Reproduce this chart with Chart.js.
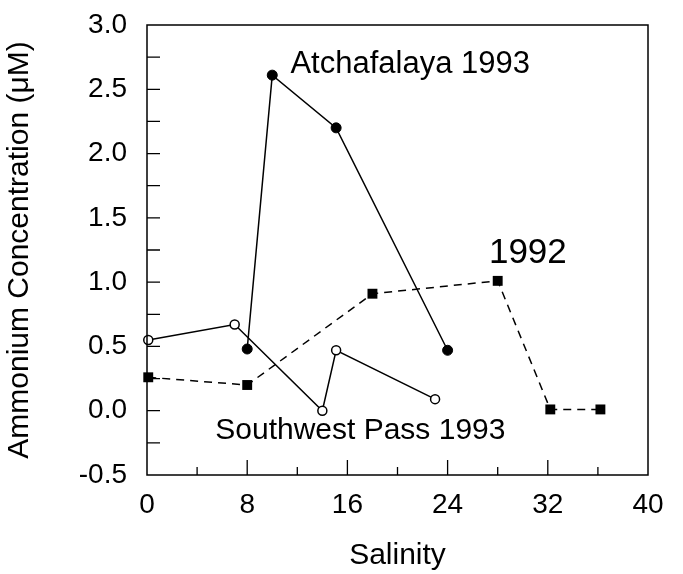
<!DOCTYPE html>
<html>
<head>
<meta charset="utf-8">
<script src="https://cdn.jsdelivr.net/npm/chart.js@4"></script>
<style>
  html, body { margin: 0; padding: 0; background: #fff; }
  #wrap { width: 683px; height: 574px; }
</style>
</head>
<body>
<div id="wrap"><canvas id="chart" width="683" height="574"></canvas></div>
<script>
// salinity / ammonium values
const atchSal = [8, 10, 15.1, 24];
const atchNh4 = [0.48, 2.61, 2.2, 0.47];

const swpSal = [0.1, 7, 14, 15.1, 23];
const swpNh4 = [0.55, 0.67, 0.0, 0.47, 0.09];

const y92Sal = [0.1, 8, 18, 28, 32.2, 36.2];
const y92Nh4 = [0.26, 0.2, 0.91, 1.01, 0.01, 0.01];

const xTickLabels = [0, 8, 16, 24, 32, 40];
const yTickLabels = [-0.5, 0.0, 0.5, 1.0, 1.5, 2.0, 2.5, 3.0];

const FONT = "'Liberation Sans', Arial, Helvetica, sans-serif";

function toPoints(xs, ys) {
  return xs.map((x, i) => ({ x: x, y: ys[i] }));
}

// frame, inward tick marks and the in-plot labels
const decor = {
  id: "decor",
  afterDraw(chart) {
    const ctx = chart.ctx;
    const a = chart.chartArea;
    const xs = chart.scales.x;
    const ys = chart.scales.y;

    ctx.save();
    ctx.strokeStyle = "#000";
    ctx.lineWidth = 1.5;
    ctx.strokeRect(a.left, a.top, a.right - a.left, a.bottom - a.top);

    ctx.lineWidth = 1.3;
    ctx.beginPath();
    xs.ticks.forEach((t) => {
      if (t.value <= xs.min || t.value >= xs.max) return;
      const px = xs.getPixelForValue(t.value);
      const len = xTickLabels.includes(t.value) ? 15 : 8;
      ctx.moveTo(px, a.bottom);
      ctx.lineTo(px, a.bottom - len);
    });
    ys.ticks.forEach((t) => {
      if (t.value <= ys.min || t.value >= ys.max) return;
      const py = ys.getPixelForValue(t.value);
      ctx.moveTo(a.left, py);
      ctx.lineTo(a.left + 13, py);
    });
    ctx.stroke();

    ctx.fillStyle = "#000";
    ctx.textBaseline = "alphabetic";
    ctx.textAlign = "left";
    ctx.font = "31px " + FONT;
    ctx.fillText("Atchafalaya 1993", xs.getPixelForValue(11.45), ys.getPixelForValue(2.63));
    ctx.font = "30px " + FONT;
    ctx.fillText("Southwest Pass 1993", xs.getPixelForValue(5.45), ys.getPixelForValue(-0.22));
    ctx.font = "35px " + FONT;
    ctx.fillText("1992", xs.getPixelForValue(27.3), ys.getPixelForValue(1.15));
    ctx.restore();
  },
};

new Chart(document.getElementById("chart"), {
  type: "scatter",
  data: {
    datasets: [
      {
        label: "Atchafalaya 1993",
        data: toPoints(atchSal, atchNh4),
        showLine: true,
        borderColor: "#000",
        borderWidth: 1.5,
        backgroundColor: "#000",
        pointBackgroundColor: "#000",
        pointBorderColor: "#000",
        pointRadius: 5,
        pointBorderWidth: 1,
        pointStyle: "circle",
      },
      {
        label: "Southwest Pass 1993",
        data: toPoints(swpSal, swpNh4),
        showLine: true,
        borderColor: "#000",
        borderWidth: 1.5,
        pointBackgroundColor: "#fff",
        pointBorderColor: "#000",
        pointRadius: 4.5,
        pointBorderWidth: 1.5,
        pointStyle: "circle",
      },
      {
        label: "1992",
        data: toPoints(y92Sal, y92Nh4),
        showLine: true,
        borderColor: "#000",
        borderWidth: 1.5,
        borderDash: [8, 6],
        pointBackgroundColor: "#000",
        pointBorderColor: "#000",
        pointRadius: 7,
        pointBorderWidth: 0,
        pointStyle: "rect",
      },
    ],
  },
  options: {
    responsive: false,
    animation: false,
    clip: false,
    layout: { padding: { left: 0, right: 35, top: 25, bottom: 0 } },
    plugins: {
      legend: { display: false },
      tooltip: { enabled: false },
    },
    scales: {
      x: {
        type: "linear",
        min: 0,
        max: 40,
        grid: { display: false, drawTicks: false },
        border: { display: false },
        ticks: {
          stepSize: 4,
          padding: 13,
          color: "#000",
          font: { family: FONT, size: 28 },
          maxRotation: 0,
          autoSkip: false,
          callback: function (value) {
            return xTickLabels.includes(value) ? String(value) : "";
          },
        },
        title: {
          display: true,
          text: "Salinity",
          color: "#000",
          font: { family: FONT, size: 30 },
          padding: { top: 0, bottom: 0 },
        },
        afterFit: function (scale) {
          scale.height = 99;
          scale.paddingLeft = 0;
          scale.paddingRight = 0;
        },
      },
      y: {
        type: "linear",
        min: -0.5,
        max: 3.0,
        grid: { display: false, drawTicks: false },
        border: { display: false },
        ticks: {
          stepSize: 0.25,
          padding: 20,
          color: "#000",
          font: { family: FONT, size: 28 },
          autoSkip: false,
          callback: function (value) {
            const v = Math.round(value * 100) / 100;
            return yTickLabels.includes(v) ? v.toFixed(1) : "";
          },
        },
        title: {
          display: true,
          text: "Ammonium Concentration (\u03BCM)",
          color: "#000",
          font: { family: FONT, size: 30 },
          padding: { top: 2, bottom: 0 },
        },
        afterFit: function (scale) {
          scale.width = 147;
          scale.paddingTop = 0;
          scale.paddingBottom = 0;
        },
      },
    },
  },
  plugins: [decor],
});
</script>
</body>
</html>
